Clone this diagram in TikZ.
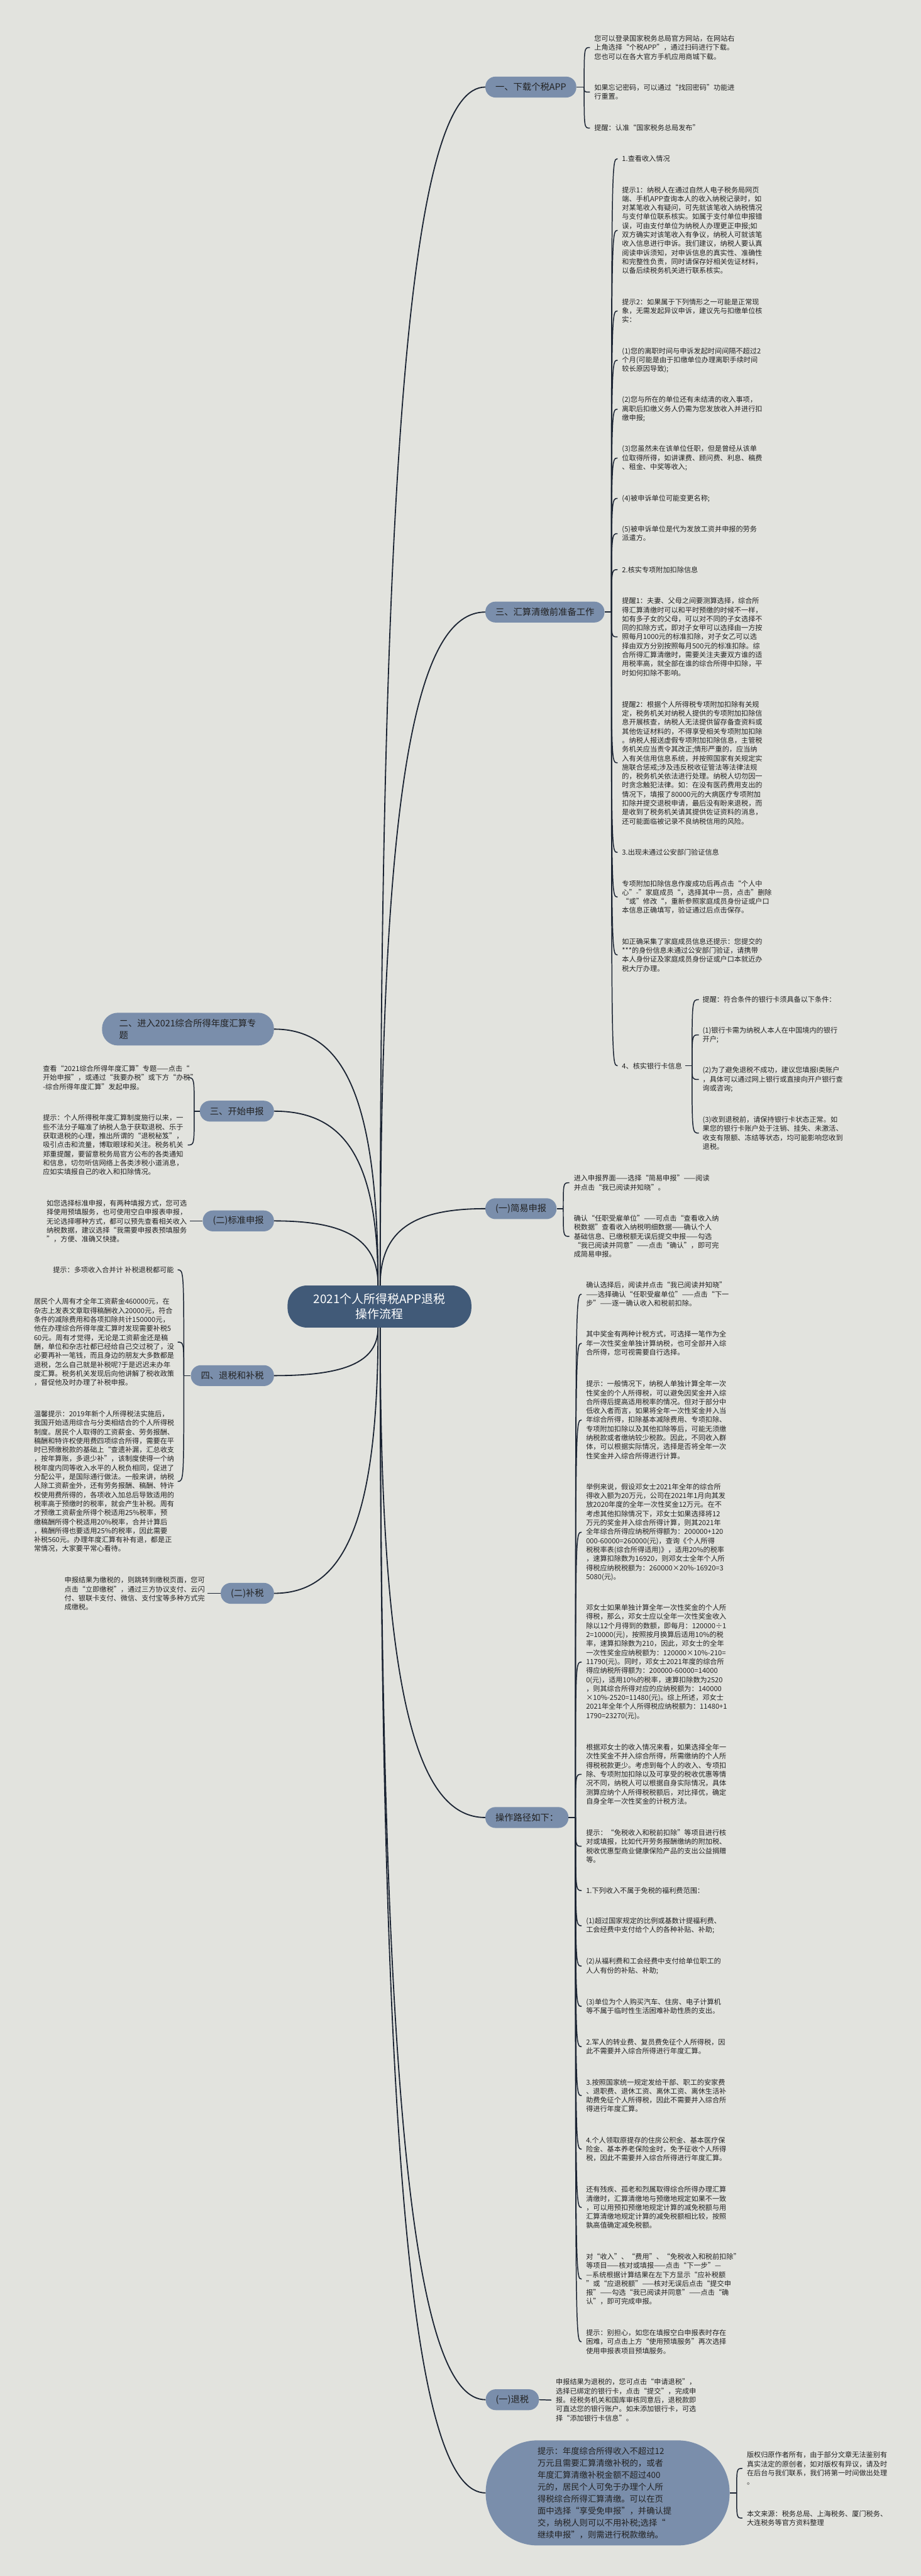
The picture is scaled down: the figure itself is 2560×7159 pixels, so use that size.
\documentclass[tikz,border=0pt]{standalone}
\usepackage{fontspec}
\setmainfont{Noto Sans CJK SC}
\usetikzlibrary{calc}
\definecolor{bgc}{HTML}{E2E3DE}
\definecolor{lvone}{HTML}{7A8EAB}
\definecolor{ctr}{HTML}{415A78}
\definecolor{lnc}{HTML}{1B2433}
\definecolor{txc}{HTML}{222222}
\tikzset{
 bodytxt/.style={anchor=west, inner sep=0pt, align=left, text=txc, font=\fontsize{9.75}{12.5}\selectfont},
 lvnode/.style={fill=lvone, rounded corners=14pt, minimum height=29pt, inner xsep=14pt, inner ysep=0pt, text=txc, font=\fontsize{12.5}{15}\selectfont},
 ctrnode/.style={fill=ctr, rounded corners=27pt, minimum width=255.5pt, minimum height=58.5pt, align=center, text=white, font=\fontsize{16.5}{20.5}\selectfont},
 mainln/.style={draw=lnc, line width=1.6pt},
 brln/.style={draw=lnc, line width=1.3pt},
}
\newcommand\hookto[2]{\draw[brln] let \p1=(#1), \p2=(#2) in (\p1) .. controls (\x1,\y2) and (\x1,\y2) .. (\p2);}
\newcommand\maincurve[2]{\draw[mainln] let \p1=(#1), \p2=(#2) in (\p1) .. controls (\x1,{\y1+0.75*(\y2-\y1)}) and ({\x1+0.35*(\x2-\x1)},\y2) .. (\p2);}
\begin{document}
\begin{tikzpicture}[x=0.5pt,y=-0.5pt]
\fill[bgc] (0,0) rectangle (2560,7159);
\useasboundingbox (0,0) rectangle (2560,7159);
% central
\node[ctrnode] (c) at (1055,3631) {2021个人所得税APP退税\\操作流程};
% level one right
\node[lvnode, anchor=west] (R1) at (1349,242) {一、下载个税APP};
\node[lvnode, anchor=west] (R2) at (1349,1701) {三、汇算清缴前准备工作};
\node[lvnode, anchor=west] (R3) at (1349,3359) {(一)简易申报};
\node[lvnode, anchor=west] (R4) at (1349,5051) {操作路径如下：};
\node[lvnode, anchor=west] (R5) at (1350,6669) {(一)退税};
\node[lvnode, anchor=west, align=left, text width=195pt, inner xsep=72pt, minimum height=146pt, rounded corners=72pt, font=\fontsize{11.65}{16.55}\selectfont] (R6) at (1350,6928) {提示：年度综合所得收入不超过12\\万元且需要汇算清缴补税的，或者\\年度汇算清缴补税金额不超过400\\元的，居民个人可免于办理个人所\\得税综合所得汇算清缴。可以在页\\面中选择“享受免申报”，并确认提\\交，纳税人则可以不用补税;选择“\\继续申报”，则需进行税款缴纳。};
% level one left
\node[lvnode, anchor=east, align=left, text width=191pt, inner xsep=24pt, minimum height=45.5pt, rounded corners=22pt, font=\fontsize{12.5}{16.5}\selectfont] (L1) at (762,2860) {二、进入2021综合所得年度汇算专\\题};
\node[lvnode, anchor=east] (L2) at (762,3088) {三、开始申报};
\node[lvnode, anchor=east] (L3) at (762,3393) {(二)标准申报};
\node[lvnode, anchor=east] (L4) at (762,3823) {四、退税和补税};
\node[lvnode, anchor=east] (L5) at (762,4428) {(二)补税};
% main curves
\maincurve{[xshift=1pt]c.north}{R1.west}
\maincurve{[xshift=1pt]c.north}{R2.west}
\maincurve{[xshift=1pt]c.north}{R3.west}
\maincurve{[xshift=-2pt]c.north}{L1.east}
\maincurve{[xshift=-2pt]c.north}{L2.east}
\maincurve{[xshift=-2pt]c.north}{L3.east}
\maincurve{[xshift=1pt]c.south}{R4.west}
\maincurve{[xshift=1pt]c.south}{R5.west}
\maincurve{[xshift=1pt]c.south}{R6.west}
\maincurve{[xshift=-2pt]c.south}{L4.east}
\maincurve{[xshift=-2pt]c.south}{L5.east}
% ---------- branch R1
\coordinate (j1) at (1624,242);
\node[bodytxt] (a1) at (1652,132) {您可以登录国家税务总局官方网站，在网站右\\上角选择“个税APP”，通过扫码进行下载。\\您也可以在各大官方手机应用商城下载。};
\node[bodytxt] (a2) at (1652,256) {如果忘记密码，可以通过“找回密码”功能进\\行重置。};
\node[bodytxt] (a3) at (1652,356) {提醒：认准“国家税务总局发布”};
\draw[brln] (R1.east) -- (j1);
\foreach \chd in {a1,a2,a3}{\hookto{j1}{[xshift=-6pt]\chd.west}}
% ---------- branch R2
\coordinate (j2) at (1700,1701);
\node[bodytxt] (b1) at (1729,441) {1.查看收入情况};
\node[bodytxt] (b2) at (1729,640) {提示1：纳税人在通过自然人电子税务局网页\\端、手机APP查询本人的收入纳税记录时，如\\对某笔收入有疑问，可先就该笔收入纳税情况\\与支付单位联系核实。如属于支付单位申报错\\误，可由支付单位为纳税人办理更正申报;如\\双方确实对该笔收入有争议，纳税人可就该笔\\收入信息进行申诉。我们建议，纳税人要认真\\阅读申诉须知，对申诉信息的真实性、准确性\\和完整性负责，同时请保存好相关佐证材料，\\以备后续税务机关进行联系核实。};
\node[bodytxt] (b3) at (1729,864) {提示2：如果属于下列情形之一可能是正常现\\象，无需发起异议申诉，建议先与扣缴单位核\\实：};
\node[bodytxt] (b4) at (1729,1001) {(1)您的离职时间与申诉发起时间间隔不超过2\\个月(可能是由于扣缴单位办理离职手续时间\\较长原因导致);};
\node[bodytxt] (b5) at (1729,1137) {(2)您与所在的单位还有未结清的收入事项，\\离职后扣缴义务人仍需为您发放收入并进行扣\\缴申报;};
\node[bodytxt] (b6) at (1729,1273) {(3)您虽然未在该单位任职，但是曾经从该单\\位取得所得，如讲课费、顾问费、利息、稿费\\、租金、中奖等收入;};
\node[bodytxt] (b7) at (1729,1385) {(4)被申诉单位可能变更名称;};
\node[bodytxt] (b8) at (1729,1483) {(5)被申诉单位是代为发放工资并申报的劳务\\派遣方。};
\node[bodytxt] (b9) at (1729,1583) {2.核实专项附加扣除信息};
\node[bodytxt] (b10) at (1729,1770) {提醒1：夫妻、父母之间要测算选择，综合所\\得汇算清缴时可以和平时预缴的时候不一样，\\如有多子女的父母，可以对不同的子女选择不\\同的扣除方式，即对子女甲可以选择由一方按\\照每月1000元的标准扣除，对子女乙可以选\\择由双方分别按照每月500元的标准扣除。综\\合所得汇算清缴时，需要关注夫妻双方谁的适\\用税率高，就全部在谁的综合所得中扣除，平\\时如何扣除不影响。};
\node[bodytxt] (b11) at (1729,2120) {提醒2：根据个人所得税专项附加扣除有关规\\定，税务机关对纳税人提供的专项附加扣除信\\息开展核查，纳税人无法提供留存备查资料或\\其他佐证材料的，不得享受相关专项附加扣除\\。纳税人报送虚假专项附加扣除信息，主管税\\务机关应当责令其改正;情形严重的，应当纳\\入有关信用信息系统，并按照国家有关规定实\\施联合惩戒;涉及违反税收征管法等法律法规\\的，税务机关依法进行处理。纳税人切勿因一\\时贪念触犯法律。如：在没有医药费用支出的\\情况下，填报了80000元的大病医疗专项附加\\扣除并提交退税申请，最后没有盼来退税，而\\是收到了税务机关请其提供佐证资料的消息，\\还可能面临被记录不良纳税信用的风险。};
\node[bodytxt] (b12) at (1729,2369) {3.出现未通过公安部门验证信息};
\node[bodytxt] (b13) at (1729,2493) {专项附加扣除信息作废成功后再点击“个人中\\心”-”家庭成员“，选择其中一员，点击”删除\\“或”修改“，重新参照家庭成员身份证或户口\\本信息正确填写，验证通过后点击保存。};
\node[bodytxt] (b14) at (1729,2654) {如正确采集了家庭成员信息还提示：您提交的\\{***}的身份信息未通过公安部门验证，请携带\\本人身份证及家庭成员身份证或户口本就近办\\税大厅办理。};
\node[bodytxt] (b15) at (1729,2962) {4、核实银行卡信息};
\draw[brln] (R2.east) -- (j2);
\foreach \chd in {b1,b2,b3,b4,b5,b6,b7,b8,b9,b10,b11,b12,b13,b14,b15}{\hookto{j2}{[xshift=-6pt]\chd.west}}
% sub-branch b15
\coordinate (j3) at (1924,2962);
\node[bodytxt] (d1) at (1953,2778) {提醒：符合条件的银行卡须具备以下条件：};
\node[bodytxt] (d2) at (1953,2876) {(1)银行卡需为纳税人本人在中国境内的银行\\开户;};
\node[bodytxt] (d3) at (1953,3000) {(2)为了避免退税不成功，建议您填报I类账户\\，具体可以通过网上银行或直接向开户银行查\\询或咨询;};
\node[bodytxt] (d4) at (1953,3149) {(3)收到退税前，请保持银行卡状态正常。如\\果您的银行卡账户处于注销、挂失、未激活、\\收支有限额、冻结等状态，均可能影响您收到\\退税。};
\draw[brln] ([xshift=4pt]b15.east) -- (j3);
\foreach \chd in {d1,d2,d3,d4}{\hookto{j3}{[xshift=-5pt]\chd.west}}
% ---------- branch R3
\coordinate (j4) at (1566,3359);
\node[bodytxt] (e1) at (1595,3287) {进入申报界面——选择“简易申报”——阅读\\并点击“我已阅读并知晓”。};
\node[bodytxt] (e2) at (1595,3436) {确认“任职受雇单位”——可点击“查看收入纳\\税数据”查看收入纳税明细数据——确认个人\\基础信息、已缴税额无误后提交申报——勾选\\“我已阅读并同意”——点击“确认”，即可完\\成简易申报。};
\draw[brln] (R3.east) -- (j4);
\foreach \chd in {e1,e2}{\hookto{j4}{[xshift=-6pt]\chd.west}}
% ---------- branch R4
\coordinate (j5) at (1600,5051);
\node[bodytxt] (f1) at (1629,3597) {确认选择后，阅读并点击“我已阅读并知晓”\\——选择确认“任职受雇单位”——点击“下一\\步”——逐一确认收入和税前扣除。};
\node[bodytxt] (f2) at (1629,3733) {其中奖金有两种计税方式，可选择一笔作为全\\年一次性奖金单独计算纳税，也可全部并入综\\合所得，您可视需要自行选择。};
\node[bodytxt] (f3) at (1629,3946) {提示：一般情况下，纳税人单独计算全年一次\\性奖金的个人所得税，可以避免因奖金并入综\\合所得后提高适用税率的情况。但对于部分中\\低收入者而言，如果将全年一次性奖金并入当\\年综合所得，扣除基本减除费用、专项扣除、\\专项附加扣除以及其他扣除等后，可能无须缴\\纳税款或者缴纳较少税款。因此，不同收入群\\体，可以根据实际情况，选择是否将全年一次\\性奖金并入综合所得进行计算。};
\node[bodytxt] (f4) at (1629,4258) {举例来说，假设邓女士2021年全年的综合所\\得收入额为20万元，公司在2021年1月向其发\\放2020年度的全年一次性奖金12万元。在不\\考虑其他扣除情况下，邓女士如果选择将12\\万元的奖金并入综合所得计算，则其2021年\\全年综合所得应纳税所得额为：200000+120\\000-60000=260000(元)，查询《个人所得\\税税率表(综合所得适用)》，适用20\%的税率\\，速算扣除数为16920，则邓女士全年个人所\\得税应纳税税额为：260000×20\%-16920=3\\5080(元)。};
\node[bodytxt] (f5) at (1629,4619) {邓女士如果单独计算全年一次性奖金的个人所\\得税，那么，邓女士应以全年一次性奖金收入\\除以12个月得到的数额，即每月：120000÷1\\2=10000(元)，按照按月换算后适用10\%的税\\率，速算扣除数为210，因此，邓女士的全年\\一次性奖金应纳税额为：120000×10\%-210=\\11790(元)。同时，邓女士2021年度的综合所\\得应纳税所得额为：200000-60000=14000\\0(元)，适用10\%的税率，速算扣除数为2520\\，则其综合所得对应的应纳税额为：140000\\×10\%-2520=11480(元)。综上所述，邓女士\\2021年全年个人所得税应纳税额为：11480+1\\1790=23270(元)。};
\node[bodytxt] (f6) at (1629,4931) {根据邓女士的收入情况来看，如果选择全年一\\次性奖金不并入综合所得，所需缴纳的个人所\\得税税款更少。考虑到每个人的收入、专项扣\\除、专项附加扣除以及可享受的税收优惠等情\\况不同，纳税人可以根据自身实际情况，具体\\测算应纳个人所得税税额后，对比择优，确定\\自身全年一次性奖金的计税方法。};
\node[bodytxt] (f7) at (1629,5131) {提示：“免税收入和税前扣除”等项目进行核\\对或填报，比如代开劳务报酬缴纳的附加税、\\税收优惠型商业健康保险产品的支出公益捐赠\\等。};
\node[bodytxt] (f8) at (1629,5254) {1.下列收入不属于免税的福利费范围：};
\node[bodytxt] (f9) at (1629,5352) {(1)超过国家规定的比例或基数计提福利费、\\工会经费中支付给个人的各种补贴、补助;};
\node[bodytxt] (f10) at (1629,5464) {(2)从福利费和工会经费中支付给单位职工的\\人人有份的补贴、补助;};
\node[bodytxt] (f11) at (1629,5576) {(3)单位为个人购买汽车、住房、电子计算机\\等不属于临时性生活困难补助性质的支出。};
\node[bodytxt] (f12) at (1629,5688) {2.军人的转业费、复员费免征个人所得税，因\\此不需要并入综合所得进行年度汇算。};
\node[bodytxt] (f13) at (1629,5824) {3.按照国家统一规定发给干部、职工的安家费\\、退职费、退休工资、离休工资、离休生活补\\助费免征个人所得税，因此不需要并入综合所\\得进行年度汇算。};
\node[bodytxt] (f14) at (1629,5973) {4.个人领取原提存的住房公积金、基本医疗保\\险金、基本养老保险金时，免予征收个人所得\\税，因此不需要并入综合所得进行年度汇算。};
\node[bodytxt] (f15) at (1629,6135) {还有残疾、孤老和烈属取得综合所得办理汇算\\清缴时，汇算清缴地与预缴地规定如果不一致\\，可以用预扣预缴地规定计算的减免税额与用\\汇算清缴地规定计算的减免税额相比较，按照\\孰高值确定减免税额。};
\node[bodytxt] (f16) at (1629,6334) {对“收入”、“费用”、“免税收入和税前扣除”\\等项目——核对或填报——点击“下一步”—\\—系统根据计算结果在左下方显示“应补税额\\”或“应退税额”——核对无误后点击“提交申\\报”——勾选“我已阅读并同意”——点击“确\\认”，即可完成申报。};
\node[bodytxt] (f17) at (1629,6508) {提示：别担心，如您在填报空白申报表时存在\\困难，可点击上方“使用预填服务”再次选择\\使用申报表项目预填服务。};
\draw[brln] (R4.east) -- (j5);
\foreach \chd in {f1,f2,f3,f4,f5,f6,f7,f8,f9,f10,f11,f12,f13,f14,f15,f16,f17}{\hookto{j5}{[xshift=-6pt]\chd.west}}
% ---------- branch R5
\node[bodytxt] (g1) at (1545,6670) {申报结果为退税的，您可点击“申请退税”，\\选择已绑定的银行卡，点击“提交”，完成申\\报。经税务机关和国库审核同意后，退税款即\\可直达您的银行账户。如未添加银行卡，可选\\择“添加银行卡信息”。};
\draw[brln] (R5.east) -- ([xshift=-6pt]g1.west);
% ---------- branch R6
\coordinate (j6) at (2048,6928);
\node[bodytxt] (h1) at (2076,6860) {版权归原作者所有，由于部分文章无法鉴别有\\真实法定的原创者，如对版权有异议，请及时\\在后台与我们联系，我们将第一时间做出处理\\。};
\node[bodytxt] (h2) at (2076,6998) {本文来源：税务总局、上海税务、厦门税务、\\大连税务等官方资料整理};
\draw[brln] (R6.east) -- (j6);
\foreach \chd in {h1,h2}{\hookto{j6}{[xshift=-6pt]\chd.west}}
% ---------- branch L2
\coordinate (k1) at (540,3088);
\coordinate (gx2) at (522,0);
\node[bodytxt] (m1) at (119,2995) {查看“2021综合所得年度汇算”专题——点击“\\开始申报”，或通过“我要办税”或下方“办税”\\-综合所得年度汇算”发起申报。};
\node[bodytxt] (m2) at (119,3182) {提示：个人所得税年度汇算制度施行以来，一\\些不法分子瞄准了纳税人急于获取退税、乐于\\获取退税的心理，推出所谓的“退税秘笈”，\\吸引点击和流量，博取眼球和关注。税务机关\\郑重提醒，要留意税务局官方公布的各类通知\\和信息，切勿听信网络上各类涉税小道消息，\\应如实填报自己的收入和扣除情况。};
\draw[brln] (L2.west) -- (k1);
\foreach \chd in {m1,m2}{\hookto{k1}{gx2 |- \chd.west}}
% ---------- branch L3
\coordinate (gx3) at (527,0);
\node[bodytxt] (n1) at (129,3394) {如您选择标准申报，有两种填报方式，您可选\\择使用预填服务，也可使用空白申报表申报，\\无论选择哪种方式，都可以预先查看相关收入\\纳税数据，建议选择“我需要申报表预填服务\\”，方便、准确又快捷。};
\draw[brln] (L3.west) -- (L3.west -| gx3);
% ---------- branch L4
\coordinate (k2) at (511,3823);
\coordinate (gx4) at (494,0);
\node[bodytxt] (p1) at (147,3529) {提示：多项收入合并计 补税退税都可能};
\node[bodytxt] (p2) at (94,3730) {居民个人周有才全年工资薪金460000元，在\\杂志上发表文章取得稿酬收入20000元，符合\\条件的减除费用和各项扣除共计150000元，\\他在办理综合所得年度汇算时发现需要补税5\\60元。周有才觉得，无论是工资薪金还是稿\\酬，单位和杂志社都已经给自己交过税了，没\\必要再补一笔钱，而且身边的朋友大多数都是\\退税，怎么自己就是补税呢?于是迟迟未办年\\度汇算。税务机关发现后向他讲解了税收政策\\，督促他及时办理了补税申报。};
\node[bodytxt] (p3) at (94,4117) {温馨提示：2019年新个人所得税法实施后，\\我国开始适用综合与分类相结合的个人所得税\\制度。居民个人取得的工资薪金、劳务报酬、\\稿酬和特许权使用费四项综合所得，需要在平\\时已预缴税款的基础上“查遗补漏，汇总收支\\，按年算账，多退少补”，该制度使得一个纳\\税年度内同等收入水平的人税负相同，促进了\\分配公平，是国际通行做法。一般来讲，纳税\\人除工资薪金外，还有劳务报酬、稿酬、特许\\权使用费所得的，各项收入加总后导致适用的\\税率高于预缴时的税率，就会产生补税。周有\\才预缴工资薪金所得个税适用25\%税率，预\\缴稿酬所得个税适用20\%税率，合并计算后\\，稿酬所得也要适用25\%的税率，因此需要\\补税560元。办理年度汇算有补有退，都是正\\常情况，大家要平常心看待。};
\draw[brln] (L4.west) -- (k2);
\foreach \chd in {p1,p2,p3}{\hookto{k2}{gx4 |- \chd.west}}
% ---------- branch L5
\coordinate (gx5) at (577,0);
\node[bodytxt] (q1) at (179,4429) {申报结果为缴税的，则跳转到缴税页面，您可\\点击“立即缴税”，通过三方协议支付、云闪\\付、银联卡支付、微信、支付宝等多种方式完\\成缴税。};
\draw[brln] (L5.west) -- (L5.west -| gx5);
\end{tikzpicture}
\end{document}
